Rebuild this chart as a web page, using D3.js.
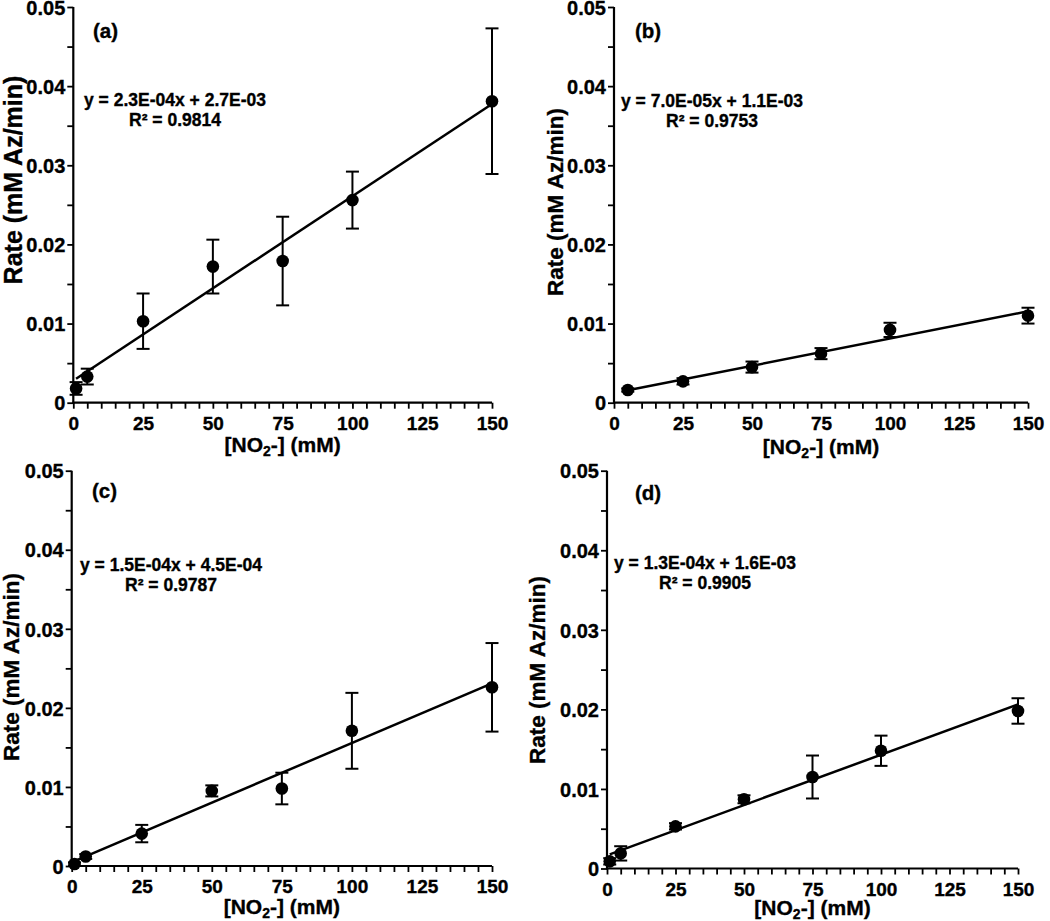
<!DOCTYPE html>
<html><head><meta charset="utf-8">
<script src="https://cdn.jsdelivr.net/npm/d3@7"></script>
<style>
html,body{margin:0;padding:0;background:#fff;}
text{font-family:"Liberation Sans",Arial,sans-serif;font-weight:bold;fill:#000;stroke:#000;stroke-width:0.35px;}
</style></head>
<body>
<svg id="chart" width="1050" height="921"></svg>
<script>
// ---- data ----
const panelNames = ["(a)", "(b)", "(c)", "(d)"];
const xA = [1, 5, 25, 50, 75, 100, 150];
const yA = [0.0018, 0.0033, 0.0103, 0.0172, 0.0179, 0.0256, 0.0381];
const eA = [0.0008, 0.0010, 0.0035, 0.0034, 0.0056, 0.0036, 0.0092];
const xB = [5, 25, 50, 75, 100, 150];
const yB = [0.0016, 0.0027, 0.0045, 0.0062, 0.0092, 0.0110];
const eB = [0.0002, 0.0004, 0.0007, 0.0007, 0.0009, 0.0010];
const xC = [1, 5, 25, 50, 75, 100, 150];
const yC = [0.00025, 0.0012, 0.0041, 0.0095, 0.0098, 0.0171, 0.0226];
const eC = [0.0002, 0.0003, 0.0011, 0.0007, 0.0020, 0.0048, 0.0056];
const xD = [1, 5, 25, 50, 75, 100, 150];
const yD = [0.0009, 0.0019, 0.0053, 0.0087, 0.0115, 0.0148, 0.0198];
const eD = [0.0004, 0.0009, 0.0004, 0.0005, 0.0027, 0.0019, 0.0016];
const equations = ["y = 2.3E-04x + 2.7E-03", "y = 7.0E-05x + 1.1E-03", "y = 1.5E-04x + 4.5E-04", "y = 1.3E-04x + 1.6E-03"];
const r2Labels = ["R\u00B2 = 0.9814", "R\u00B2 = 0.9753", "R\u00B2 = 0.9787", "R\u00B2 = 0.9905"];
const xTicks = [0, 25, 50, 75, 100, 125, 150];
const yTicks = [0, 0.01, 0.02, 0.03, 0.04, 0.05];
const xDomain = [0, 150];
const yDomain = [0, 0.05];
const yTitle = "Rate (mM Az/min)";

// ---- layout ----
const layouts = [
  {x0: 73.3, x1: 492, yT: 7, yB: 402.7, lblX: 93, lblY: 38, eqX: 175, eqY: 106, r2Y: 126, ytX: 13, ytY: 180, ytSize: 25, xtY: 452},
  {x0: 614, x1: 1028, yT: 7, yB: 402.7, lblX: 635, lblY: 38, eqX: 712, eqY: 107, r2Y: 127, ytX: 555, ytY: 202, ytSize: 22.5, xtY: 454},
  {x0: 71.7, x1: 492, yT: 470.7, yB: 866, lblX: 92, lblY: 498, eqX: 171, eqY: 571, r2Y: 591, ytX: 11, ytY: 667, ytSize: 22.5, xtY: 914},
  {x0: 607, x1: 1018, yT: 470.7, yB: 868.5, lblX: 635, lblY: 500, eqX: 705, eqY: 569, r2Y: 589, ytX: 537, ytY: 670, ytSize: 22.5, xtY: 915}
];
const series = [[xA, yA, eA], [xB, yB, eB], [xC, yC, eC], [xD, yD, eD]];

const svg = d3.select("#chart");

function linreg(xs, ys) {
  const mx = d3.mean(xs), my = d3.mean(ys);
  let sxy = 0, sxx = 0;
  xs.forEach((x, i) => { sxy += (x - mx) * (ys[i] - my); sxx += (x - mx) * (x - mx); });
  const m = sxy / sxx;
  return {m: m, b: my - m * mx};
}

series.forEach((s, p) => {
  const L = layouts[p];
  const [xs, ys, es] = s;
  const x = d3.scaleLinear().domain(xDomain).range([L.x0, L.x1]);
  const y = d3.scaleLinear().domain(yDomain).range([L.yB, L.yT]);
  const g = svg.append("g");

  // x axis
  const xAxis = d3.axisBottom(x)
    .tickValues(d3.range(0, 151, 5))
    .tickSize(6)
    .tickFormat(v => xTicks.includes(v) ? String(v) : "");
  const gx = g.append("g").attr("transform", `translate(0,${L.yB})`).call(xAxis);
  gx.select(".domain").attr("stroke", "#000").attr("stroke-width", 2.2).attr("d", `M${L.x0 - 1},0H${L.x1}`);
  gx.selectAll(".tick line").attr("stroke", "#000").attr("stroke-width", 1.8);
  gx.selectAll(".tick text").attr("font-size", 19).attr("font-family", "Liberation Sans, Arial, sans-serif")
    .attr("font-weight", "bold").attr("fill", "#000").attr("dy", 0).attr("y", 27);

  // y axis
  const yAxis = d3.axisLeft(y)
    .tickValues(d3.range(0, 11).map(i => i * 0.005))
    .tickSize(6)
    .tickFormat(v => {
      const hit = yTicks.find(t => Math.abs(t - v) < 1e-9);
      if (hit === undefined) return "";
      return hit === 0 ? "0" : d3.format(".2f")(hit);
    });
  const gy = g.append("g").attr("transform", `translate(${L.x0},0)`).call(yAxis);
  gy.select(".domain").attr("stroke", "#000").attr("stroke-width", 2.2).attr("d", `M0,${L.yB + 1}V${L.yT}`);
  gy.selectAll(".tick line").attr("stroke", "#000").attr("stroke-width", 1.8);
  gy.selectAll(".tick text").attr("font-size", 20).attr("font-family", "Liberation Sans, Arial, sans-serif")
    .attr("font-weight", "bold").attr("fill", "#000").attr("x", -8).attr("dy", "0.36em");

  // trendline
  const fit = linreg(xs, ys);
  const xMin = d3.min(xs), xMax = d3.max(xs);
  g.append("line")
    .attr("x1", x(xMin)).attr("y1", y(fit.m * xMin + fit.b))
    .attr("x2", x(xMax)).attr("y2", y(fit.m * xMax + fit.b))
    .attr("stroke", "#000").attr("stroke-width", 2.5);

  // error bars
  const eb = g.append("g").attr("stroke", "#000").attr("stroke-width", 2);
  xs.forEach((xv, i) => {
    const cx = x(xv), top = y(ys[i] + es[i]), bot = y(ys[i] - es[i]);
    eb.append("line").attr("x1", cx).attr("x2", cx).attr("y1", top).attr("y2", bot);
    eb.append("line").attr("x1", cx - 6.5).attr("x2", cx + 6.5).attr("y1", top).attr("y2", top);
    eb.append("line").attr("x1", cx - 6.5).attr("x2", cx + 6.5).attr("y1", bot).attr("y2", bot);
  });

  // points
  g.append("g").selectAll("circle").data(xs).join("circle")
    .attr("cx", d => x(d)).attr("cy", (d, i) => y(ys[i])).attr("r", 6.3).attr("fill", "#000");

  // panel label
  g.append("text").attr("x", L.lblX).attr("y", L.lblY).attr("font-size", 20.5).text(panelNames[p]);

  // equation
  g.append("text").attr("x", L.eqX).attr("y", L.eqY).attr("text-anchor", "middle").attr("font-size", 17.5).text(equations[p]);
  g.append("text").attr("x", L.eqX).attr("y", L.r2Y).attr("text-anchor", "middle").attr("font-size", 17.5).text(r2Labels[p]);

  // y title
  g.append("text")
    .attr("transform", `translate(${L.ytX},${L.ytY}) rotate(-90)`)
    .attr("text-anchor", "middle").attr("dy", "0.36em")
    .attr("font-size", L.ytSize).text(yTitle);

  // x title
  const xt = g.append("text").attr("x", (L.x0 + L.x1) / 2).attr("y", L.xtY)
    .attr("text-anchor", "middle").attr("font-size", 21);
  xt.append("tspan").text("[NO");
  xt.append("tspan").attr("font-size", 14).attr("dy", 4).text("2");
  xt.append("tspan").attr("dy", -4).text("-] (mM)");
});
</script>
</body></html>
